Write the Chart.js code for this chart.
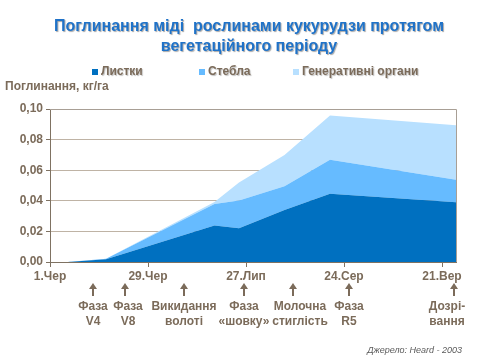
<!DOCTYPE html>
<html><head><meta charset="utf-8">
<script src="https://cdn.jsdelivr.net/npm/chart.js@4"></script>
<style>html,body{margin:0;padding:0;background:#fff}#wrap{width:480px;height:360px;position:relative}</style>
</head><body><div id="wrap"><canvas id="c" width="480" height="360"></canvas></div>
<script>
// Days counted from 1 June
const days = [5, 16, 47, 54, 67, 80, 116];
const leaves = [0, 0.0018, 0.0238, 0.022, 0.034, 0.0446, 0.0391];
const stems = [0, 0.0004, 0.0141, 0.0182, 0.0155, 0.0223, 0.0147];
const generative = [0, 0, 0.0013, 0.0118, 0.0205, 0.0288, 0.0356];
const seriesNames = ['Листки', 'Стебла', 'Генеративні органи'];
const tickDays = [0, 28, 56, 84, 112];
const tickLabels = ['1.Чер', '29.Чер', '27.Лип', '24.Сер', '21.Вер'];
const yTicks = [0, 0.02, 0.04, 0.06, 0.08, 0.10];
const phaseDays = [12.3, 21.4, 38.3, 55.4, 69.4, 85.4, 115.4];
const phaseLabels = [['Фаза', 'V4'], ['Фаза', 'V8'], ['Викидання', 'волоті'], ['Фаза', '«шовку»'], ['Молочна', 'стиглість'], ['Фаза', 'R5'], ['Дозрі-', 'вання']];
const titleLines = ['Поглинання міді  рослинами кукурудзи протягом', 'вегетаційного періоду'];
const yTitle = 'Поглинання, кг/га';
const sourceText = 'Джерело: Heard - 2003';

const colors = ['#0070c0', '#66bbff', '#b8e0ff'];
const textColor = '#7b6b5a';
const axisColor = '#7f7262';
const gridColor = '#bfb3a5';
const FONT = '"Liberation Sans", Arial, sans-serif';

function pts(arr) { return days.map((d, i) => ({ x: d, y: arr[i] })); }

const labelShift = [0, 3, 0, 0, 7, 0, -7];

const overlay = {
  id: 'overlay',
  afterDraw(chart) {
    const ctx = chart.ctx;
    const ca = chart.chartArea;
    const xs = chart.scales.x;
    ctx.save();
    // top & right border
    ctx.strokeStyle = '#a89f95';
    ctx.lineWidth = 1;
    ctx.beginPath();
    ctx.moveTo(ca.left, Math.round(ca.top) + 0.5);
    ctx.lineTo(Math.round(ca.right) + 0.5, Math.round(ca.top) + 0.5);
    ctx.lineTo(Math.round(ca.right) + 0.5, ca.bottom);
    ctx.stroke();

    // title
    ctx.save();
    ctx.shadowColor = 'rgba(0,0,0,0.35)';
    ctx.shadowOffsetX = 1; ctx.shadowOffsetY = 1; ctx.shadowBlur = 1;
    ctx.fillStyle = '#1f72c8';
    ctx.font = 'bold 16px ' + FONT;
    ctx.textAlign = 'center'; ctx.textBaseline = 'middle';
    ctx.fillText(titleLines[0], 249, 27);
    ctx.fillText(titleLines[1], 249, 47);
    ctx.restore();

    // legend
    ctx.save();
    ctx.font = 'bold 12px ' + FONT;
    ctx.textBaseline = 'middle'; ctx.textAlign = 'left';
    const lx = [92, 199, 293];
    seriesNames.forEach((n, i) => {
      ctx.fillStyle = colors[i];
      ctx.fillRect(lx[i], 69, 6, 6);
      ctx.save();
      ctx.shadowColor = 'rgba(0,0,0,0.25)';
      ctx.shadowOffsetX = 1; ctx.shadowOffsetY = 1; ctx.shadowBlur = 1;
      ctx.fillStyle = textColor;
      ctx.fillText(n, lx[i] + 9, 72);
      ctx.restore();
    });
    // y title
    ctx.fillStyle = textColor;
    ctx.fillText(yTitle, 5, 87);
    ctx.restore();

    // phase arrows and labels
    ctx.save();
    ctx.fillStyle = textColor;
    ctx.strokeStyle = textColor;
    ctx.font = 'bold 12px ' + FONT;
    ctx.textBaseline = 'middle';
    phaseDays.forEach((d, i) => {
      const x = Math.round(xs.getPixelForValue(d));
      ctx.lineWidth = 2;
      ctx.beginPath();
      ctx.moveTo(x, 287); ctx.lineTo(x, 296); ctx.stroke();
      ctx.beginPath();
      ctx.moveTo(x - 4, 289); ctx.lineTo(x, 283); ctx.lineTo(x + 4, 289); ctx.closePath(); ctx.fill();
      ctx.textAlign = 'center';
      const cx = x + labelShift[i];
      ctx.fillText(phaseLabels[i][0], cx, 307);
      ctx.fillText(phaseLabels[i][1], cx, 322);
    });
    ctx.restore();

    // source
    ctx.save();
    ctx.fillStyle = '#5a5a5a';
    ctx.font = 'italic 9px ' + FONT;
    ctx.textAlign = 'right'; ctx.textBaseline = 'middle';
    ctx.fillText(sourceText, 462, 350);
    ctx.restore();
    ctx.restore();
  }
};

new Chart(document.getElementById('c'), {
  type: 'line',
  data: {
    datasets: [
      { label: seriesNames[0], data: pts(leaves), backgroundColor: colors[0], borderWidth: 0, fill: 'origin', pointRadius: 0, tension: 0 },
      { label: seriesNames[1], data: pts(stems), backgroundColor: colors[1], borderWidth: 0, fill: '-1', pointRadius: 0, tension: 0 },
      { label: seriesNames[2], data: pts(generative), backgroundColor: colors[2], borderWidth: 0, fill: '-1', pointRadius: 0, tension: 0 }
    ]
  },
  options: {
    responsive: false,
    animation: false,
    devicePixelRatio: 1,
    layout: { padding: { top: 109, right: 24, left: 0, bottom: 0 } },
    plugins: { legend: { display: false }, title: { display: false }, tooltip: { enabled: false } },
    scales: {
      x: {
        type: 'linear', min: 0, max: 116,
        afterBuildTicks: s => { s.ticks = tickDays.map(v => ({ value: v })); },
        afterFit: s => { s.height = 98; },
        grid: { display: true, drawOnChartArea: false, drawTicks: true, tickLength: 5, color: axisColor },
        border: { color: axisColor, width: 1 },
        ticks: { color: textColor, font: { family: FONT, size: 12, weight: 'bold' }, padding: 2, maxRotation: 0, autoSkip: false,
          callback: v => { const i = tickDays.indexOf(v); return i >= 0 ? tickLabels[i] : ''; } }
      },
      y: {
        stacked: true, min: 0, max: 0.10,
        afterBuildTicks: s => { s.ticks = yTicks.map(v => ({ value: v })); },
        afterFit: s => { s.width = 50; },
        grid: { color: gridColor, tickColor: axisColor, tickLength: 4, drawTicks: true },
        border: { color: axisColor, width: 1 },
        ticks: { color: textColor, font: { family: FONT, size: 12, weight: 'bold' }, padding: 3,
          callback: v => v.toFixed(2).replace('.', ',') }
      }
    }
  },
  plugins: [overlay]
});
</script>
</body></html>
